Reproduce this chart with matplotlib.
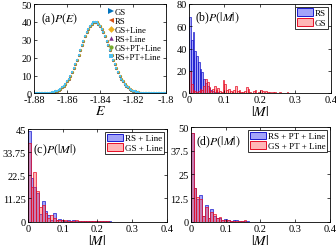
import numpy as np
import matplotlib
matplotlib.use("Agg")
import matplotlib.pyplot as plt
from matplotlib.patches import Patch

plt.rcParams["font.family"] = ["Liberation Serif", "DejaVu Serif"]
plt.rcParams["mathtext.fontset"] = "stix"

# ---- panel (a): P(E) curves, sampled every 0.001 from -1.880 to -1.800 ----
E_GRID = np.round(np.arange(-1.880, -1.7995, 0.001), 3)
P_E = [0.009, 0.013, 0.02, 0.032, 0.048, 0.072, 0.106, 0.154, 0.22, 0.316,
       0.44, 0.62, 0.84, 1.14, 1.52, 2.01, 2.63, 3.38, 4.31, 5.41, 6.72, 8.24,
       9.97, 11.9, 14.1, 16.4, 18.9, 21.6, 24.3, 26.9, 29.5, 32.0, 34.3, 36.2,
       37.8, 39.0, 39.75, 40.0,
       39.75, 39.0, 37.8, 36.2, 34.3, 32.0, 29.5, 26.9, 24.3, 21.6, 18.9, 16.4,
       14.1, 11.9, 9.97, 8.24, 6.72, 5.41, 4.31, 3.38, 2.63, 2.01, 1.52, 1.14,
       0.84, 0.62, 0.44, 0.316, 0.22, 0.154, 0.106, 0.072, 0.048, 0.032, 0.02,
       0.013, 0.009, 0.006, 0.004, 0.002, 0.001, 0.0, 0.0]
SERIES_A = ["GS", "RS", "GS+Line", "RS+Line", "GS+PT+Line", "RS+PT+Line"]
MARKERS_A = [">", "<", "D", "^", "o", "s"]
COLORS_A = ["#0072BD", "#D95319", "#EDB120", "#7E2F8E", "#77AC30", "#4DBEEE"]

# ---- panel (b): RS vs GS ----
BW_B = 0.005
RS_B = [68, 48, 55, 38, 33, 28, 22, 19, 13, 9, 7, 5, 3, 2, 1.5, 1, 1, 0.5, 0.5, 0.3]
GS_B = [20, 8, 3, 2, 1, 2, 4, 3, 7, 13, 10, 6, 2, 4, 7, 3, 5, 2, 1, 12,
        8, 3, 4, 2, 1, 3, 7, 2, 3, 1, 1, 2, 6, 4, 1, 0, 2, 3, 0, 1,
        3, 2, 0, 2, 1, 1, 0, 1, 1.5, 0, 0.5, 1, 0, 0.5, 0, 1, 0, 0.5, 0.3, 0]

# ---- panel (c): + Line ----
BW_C = 0.008
RS_C = [44, 21, 17, 14, 3.5, 10, 5, 3, 1, 4, 1, 1.5, 1, 0.5, 1, 0.5, 0.8, 0.3,
        0.5, 0.3, 0.3, 0.2, 0.5, 0.2, 0.2, 0.3, 0.1, 0.1, 0.1, 0.1, 0.05, 0.05]
GS_C = [38, 17, 24, 15, 7, 8, 4, 2, 3, 2, 1, 1, 1, 1, 0.5, 0.5, 0.5, 0.8, 0.3,
        0.3, 0.3, 0.2, 0.3, 0.2, 0.1, 0.2, 0.1, 0.1, 0.1, 0.05, 0.05, 0.05]

# ---- panel (d): + PT + Line ----
BW_D = 0.008
RS_D = [47, 18, 12, 14, 3, 9, 2, 7, 3, 2, 2, 1, 1.5, 1, 0.5, 1, 0.8, 0.5, 0.5,
        0.3, 0.5, 0.2, 0.2, 0.2, 0.1, 0.1, 0.1, 0.1, 0.05, 0.05, 0.05, 0.05]
GS_D = [47, 18, 13, 12, 3, 8, 2, 5, 4, 2, 2.5, 1, 1, 1, 0.5, 0.5, 0.5, 0.3, 0.3,
        1, 0.2, 0.2, 0.2, 0.1, 0.1, 0.1, 0.1, 0.05, 0.05, 0.05, 0.05, 0.05]

BLUE_FACE = (0.2, 0.2, 0.95, 0.45)
BLUE_EDGE = (0.1, 0.1, 0.8)
RED_FACE = (1.0, 0.25, 0.25, 0.38)
RED_EDGE = (0.9, 0.05, 0.15)

TICK_FS = 7.5
LAB_FS = 10
PANEL_FS = 8.5


def style(ax):
    ax.tick_params(direction="in", top=True, right=True, labelsize=TICK_FS,
                   length=2.5, width=0.5, pad=1.5)
    for s in ax.spines.values():
        s.set_linewidth(0.6)


def hist(ax, vals, bw, face, edge):
    left = np.arange(len(vals)) * bw
    ax.bar(left, vals, width=bw, align="edge", facecolor=face,
           edgecolor=edge, linewidth=0.5)


def legend_box(ax, labels):
    handles = [Patch(facecolor=BLUE_FACE, edgecolor=BLUE_EDGE, lw=0.7),
               Patch(facecolor=RED_FACE, edgecolor=RED_EDGE, lw=0.7)]
    leg = ax.legend(handles, labels, loc="upper right", fontsize=6.5,
                    frameon=True, fancybox=False, handlelength=1.8,
                    handleheight=0.9, handletextpad=0.2, borderpad=0.2,
                    labelspacing=0.1, borderaxespad=0.3)
    leg.get_frame().set_edgecolor("black")
    leg.get_frame().set_linewidth(0.7)


fig = plt.figure(figsize=(3.36, 2.53), dpi=100)
ax_a = fig.add_axes([0.101, 0.627, 0.393, 0.353])
ax_b = fig.add_axes([0.5625, 0.627, 0.4225, 0.354])
ax_c = fig.add_axes([0.083, 0.120, 0.414, 0.366])
ax_d = fig.add_axes([0.568, 0.119, 0.414, 0.375])

# (a)
sizes = [2.1, 2.0, 1.9, 1.8, 1.7, 1.6]
for lab, m, c, s in zip(SERIES_A, MARKERS_A, COLORS_A, sizes):
    ax_a.plot(E_GRID, P_E, linestyle="none", marker=m, color=c, ms=s,
              mew=0, label=lab)
ax_a.set_xlim(-1.88, -1.80)
ax_a.set_ylim(0, 50)
ax_a.set_xticks([-1.88, -1.86, -1.84, -1.82, -1.80])
ax_a.set_xticklabels(["-1.88", "-1.86", "-1.84", "-1.82", "-1.8"])
ax_a.set_yticks([0, 10, 20, 30, 40, 50])
ax_a.set_xlabel("$E$", fontsize=LAB_FS, labelpad=0)
ax_a.text(0.05, 0.93, "(a)$P(E)$", transform=ax_a.transAxes,
          fontsize=PANEL_FS, va="top")
ax_a.legend(loc="upper right", fontsize=6.2, frameon=False,
            handlelength=0.6, handletextpad=0.1, labelspacing=0.1,
            borderaxespad=0.1, markerscale=1.8)
style(ax_a)

# (b)
hist(ax_b, RS_B, BW_B, BLUE_FACE, BLUE_EDGE)
hist(ax_b, GS_B, BW_B, RED_FACE, RED_EDGE)
ax_b.set_xlim(0, 0.4)
ax_b.set_ylim(0, 80)
ax_b.set_xticks([0, 0.1, 0.2, 0.3, 0.4])
ax_b.set_xticklabels(["0", "0.1", "0.2", "0.3", "0.4"])
ax_b.set_yticks([0, 20, 40, 60, 80])
ax_b.set_xlabel("$|M|$", fontsize=LAB_FS, labelpad=0)
ax_b.text(0.04, 0.93, "(b)$P(|M|)$", transform=ax_b.transAxes,
          fontsize=PANEL_FS, va="top")
legend_box(ax_b, ["RS", "GS"])
style(ax_b)

# (c)
hist(ax_c, RS_C, BW_C, BLUE_FACE, BLUE_EDGE)
hist(ax_c, GS_C, BW_C, RED_FACE, RED_EDGE)
ax_c.set_xlim(0, 0.4)
ax_c.set_ylim(0, 45)
ax_c.set_xticks([0, 0.1, 0.2, 0.3, 0.4])
ax_c.set_xticklabels(["0", "0.1", "0.2", "0.3", "0.4"])
ax_c.set_yticks([0, 11.25, 22.5, 33.75, 45])
ax_c.set_yticklabels(["0", "11.25", "22.5", "33.75", "45"])
ax_c.set_xlabel("$|M|$", fontsize=LAB_FS, labelpad=0)
ax_c.text(0.04, 0.86, "(c)$P(|M|)$", transform=ax_c.transAxes,
          fontsize=PANEL_FS, va="top")
legend_box(ax_c, ["RS + Line", "GS + Line"])
style(ax_c)

# (d)
hist(ax_d, RS_D, BW_D, BLUE_FACE, BLUE_EDGE)
hist(ax_d, GS_D, BW_D, RED_FACE, RED_EDGE)
ax_d.set_xlim(0, 0.4)
ax_d.set_ylim(0, 50)
ax_d.set_xticks([0, 0.1, 0.2, 0.3, 0.4])
ax_d.set_xticklabels(["0", "0.1", "0.2", "0.3", "0.4"])
ax_d.set_yticks([0, 12.5, 25, 37.5, 50])
ax_d.set_yticklabels(["0", "12.5", "25", "37.5", "50"])
ax_d.set_xlabel("$|M|$", fontsize=LAB_FS, labelpad=0)
ax_d.text(0.04, 0.93, "(d)$P(|M|)$", transform=ax_d.transAxes,
          fontsize=PANEL_FS, va="top")
legend_box(ax_d, ["RS + PT + Line", "GS + PT + Line"])
style(ax_d)

fig.savefig("out.png", dpi=100)
